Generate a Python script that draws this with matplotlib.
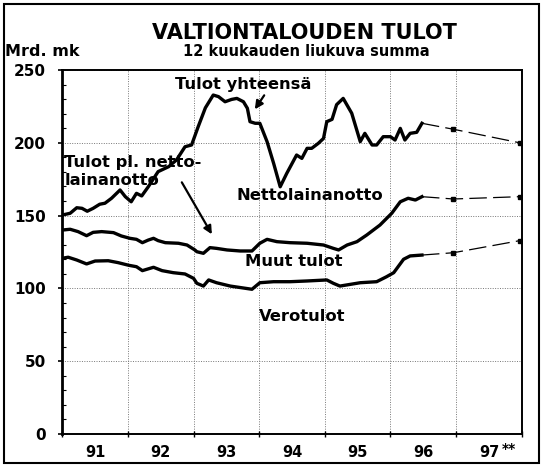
import numpy as np
import matplotlib.pyplot as plt
from matplotlib.ticker import MultipleLocator, FixedLocator, NullFormatter, FixedFormatter
from matplotlib.patches import Rectangle

# valtion tulot, 12 kk liukuva summa (Mrd. mk), aika desimaalivuosina
t_yht = [1991.00, 1991.12, 1991.22, 1991.30, 1991.38, 1991.47, 1991.57, 1991.65, 1991.75, 1991.88,
         1991.96, 1992.05, 1992.13, 1992.21, 1992.31, 1992.46, 1992.62, 1992.74, 1992.87, 1992.97,
         1993.07, 1993.18, 1993.30, 1993.38, 1993.48, 1993.58, 1993.66, 1993.76, 1993.82, 1993.86,
         1993.94, 1994.01, 1994.12, 1994.22, 1994.32, 1994.42, 1994.57, 1994.65, 1994.73, 1994.80,
         1994.90, 1994.98, 1995.03, 1995.11, 1995.18, 1995.28, 1995.41, 1995.54, 1995.61, 1995.72,
         1995.79, 1995.89, 1996.00, 1996.07, 1996.15, 1996.22, 1996.30, 1996.40, 1996.48]
tulot_yht = [150.4, 151.6, 155.4, 155.0, 153.0, 155.0, 157.8, 158.5, 161.9, 167.6,
             163.0, 159.5, 165.3, 163.5, 169.8, 180.2, 183.6, 188.2, 197.3, 198.5,
             211.0, 224.0, 232.8, 231.7, 228.2, 229.8, 230.5, 228.2, 223.7, 214.5,
             213.4, 213.4, 200.8, 185.9, 169.8, 179.0, 191.6, 189.3, 196.2, 196.2,
             199.6, 203.0, 214.5, 216.1, 226.2, 230.5, 220.3, 200.8, 206.5, 198.5,
             198.5, 204.2, 204.2, 201.9, 209.9, 201.9, 206.5, 207.2, 213.4]

t_pl = [1991.00, 1991.12, 1991.24, 1991.37, 1991.47, 1991.60, 1991.78, 1991.90, 1992.03, 1992.13,
        1992.22, 1992.31, 1992.39, 1992.46, 1992.57, 1992.77, 1992.90, 1993.02, 1993.05, 1993.15,
        1993.25, 1993.35, 1993.51, 1993.71, 1993.89, 1994.01, 1994.12, 1994.27, 1994.47, 1994.73,
        1994.98, 1995.13, 1995.21, 1995.34, 1995.49, 1995.64, 1995.84, 1996.02, 1996.15, 1996.27,
        1996.38, 1996.48]
tulot_pl = [140.1, 140.6, 139.0, 136.2, 138.5, 139.0, 138.3, 136.0, 134.4, 133.7,
            131.4, 133.2, 134.4, 132.8, 131.4, 131.0, 129.8, 126.4, 125.2, 124.1,
            128.0, 127.5, 126.4, 125.7, 125.7, 131.0, 133.7, 132.1, 131.4, 131.0,
            129.8, 127.5, 126.4, 129.8, 132.1, 136.7, 143.5, 151.6, 159.5, 161.9,
            160.7, 163.0]

t_vero = [1991.00, 1991.09, 1991.22, 1991.37, 1991.50, 1991.70, 1991.85, 1992.01, 1992.13, 1992.22,
          1992.39, 1992.52, 1992.69, 1992.87, 1993.00, 1993.05, 1993.15, 1993.23, 1993.35, 1993.56,
          1993.89, 1994.01, 1994.22, 1994.47, 1994.73, 1995.03, 1995.13, 1995.23, 1995.54, 1995.79,
          1995.94, 1996.05, 1996.20, 1996.30, 1996.48]
verotulot = [120.7, 121.4, 119.5, 116.8, 118.8, 119.0, 117.7, 115.9, 114.9, 112.2,
             114.5, 112.2, 110.8, 109.9, 106.9, 103.5, 101.6, 105.8, 103.9, 101.6,
             99.4, 103.9, 104.6, 104.6, 105.1, 105.8, 103.5, 101.6, 103.9, 104.6,
             108.0, 110.8, 120.0, 122.3, 122.9]

# ennusteet vuosille 96 ja 97
t_enn = [1996.96, 1997.97]
enn_yht = [209.3, 200.0]
enn_pl = [161.4, 163.0]
enn_vero = [124.5, 132.8]

vuodet = ['91', '92', '93', '94', '95', '96', '97']

bold = dict(fontweight='bold', family='DejaVu Sans')

fig = plt.figure(figsize=(5.43, 4.65), dpi=100)
ax = fig.add_axes([62.3 / 543, 31 / 465, (521.7 - 62.3) / 543, (434 - 70) / 465])

for t, y, te, ye in [(t_yht, tulot_yht, t_enn, enn_yht),
                     (t_pl, tulot_pl, t_enn, enn_pl),
                     (t_vero, verotulot, t_enn, enn_vero)]:
    ax.plot(t, y, color='black', lw=2.4, solid_joinstyle='round', zorder=3)
    ax.plot([t[-1]] + te, [y[-1]] + ye, color='black', lw=0.9,
            linestyle=(0, (14, 5)), zorder=3)
    ax.plot(te, ye, 's', color='black', markersize=3.2, zorder=4)

ax.set_xlim(1991, 1998)
ax.set_ylim(0, 250)

ax.yaxis.set_major_locator(MultipleLocator(50))
ax.yaxis.set_minor_locator(MultipleLocator(10))
ax.tick_params(axis='y', which='major', direction='out', length=3, width=1.2, pad=9,
               labelsize=11)
ax.tick_params(axis='y', which='minor', direction='in', length=3, width=0.8)
for lab in ax.get_yticklabels():
    lab.set_fontweight('bold')

ax.xaxis.set_major_locator(FixedLocator(np.arange(1991, 1999)))
ax.xaxis.set_major_formatter(NullFormatter())
ax.xaxis.set_minor_locator(FixedLocator(np.arange(1991.5, 1998, 1.0)))
ax.xaxis.set_minor_formatter(FixedFormatter(vuodet))
ax.tick_params(axis='x', which='major', direction='inout', length=4, width=1)
ax.tick_params(axis='x', which='minor', length=0, pad=8, labelsize=10.5)
for lab in ax.get_xticklabels(minor=True):
    lab.set_fontweight('bold')
ax.text(1997.8, -10.5, '**', ha='center', va='center', fontsize=10, **bold)

ax.grid(True, which='major', color='#777777', linestyle=(0, (1, 1.5)), lw=0.7, zorder=1)
for s in ax.spines.values():
    s.set_linewidth(1.4)
ax.spines['left'].set_linewidth(2)

# tekstit
fs = 11.8
ax.text(1993.75, 239.7, 'Tulot yhteensä', ha='center', va='center', fontsize=fs, **bold)
ax.annotate('', xy=(1993.91, 221.4), xytext=(1994.10, 234.2),
            arrowprops=dict(arrowstyle='-|>', color='black', lw=1.6, mutation_scale=12))
ax.text(1991.03, 186.3, 'Tulot pl. netto-', ha='left', va='center', fontsize=fs, **bold)
ax.text(1991.03, 173.8, 'lainanotto', ha='left', va='center', fontsize=fs, **bold)
ax.annotate('', xy=(1993.30, 135.5), xytext=(1992.80, 174.5),
            arrowprops=dict(arrowstyle='-|>', color='black', lw=1.6, mutation_scale=12))
ax.text(1994.77, 163.7, 'Nettolainanotto', ha='center', va='center', fontsize=fs, **bold)
ax.text(1994.53, 118.3, 'Muut tulot', ha='center', va='center', fontsize=fs, **bold)
ax.text(1994.65, 81.0, 'Verotulot', ha='center', va='center', fontsize=fs, **bold)

fig.text(304 / 543, 1 - 33 / 465, 'VALTIONTALOUDEN TULOT', ha='center', va='center',
         fontsize=15, **bold)
fig.text(306 / 543, 1 - 51 / 465, '12 kuukauden liukuva summa', ha='center', va='center',
         fontsize=10.5, **bold)
fig.text(5 / 543, 1 - 51 / 465, 'Mrd. mk', ha='left', va='center', fontsize=11.5, **bold)

# kehys koko kuvan ympäri
fig.patches.append(Rectangle((4 / 543, 2 / 465), 535 / 543, 459 / 465, transform=fig.transFigure,
                             fill=False, edgecolor='black', lw=1.5))

fig.savefig('out.png', dpi=100)
